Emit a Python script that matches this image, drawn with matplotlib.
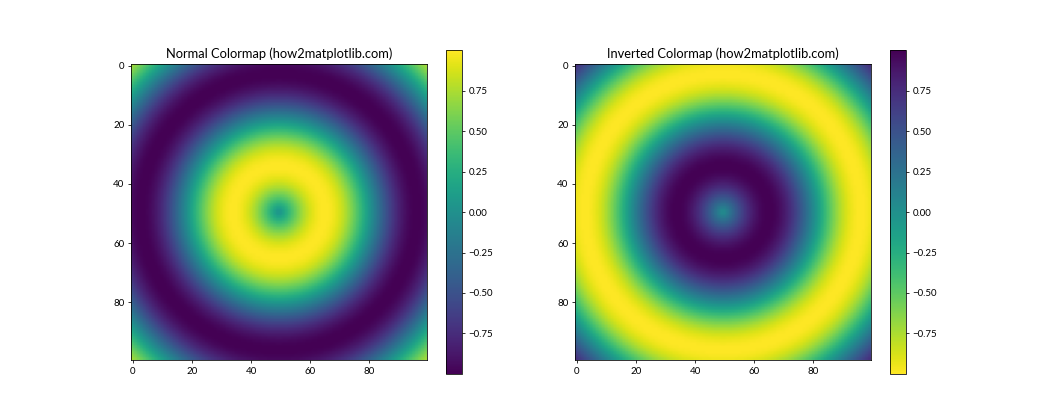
import numpy as np
import matplotlib.pyplot as plt

plt.rcParams['font.family'] = ['Lato', 'DejaVu Sans']

# grid of the image: 100 x 100 samples over [-5, 5]
grid_min, grid_max, grid_n = -5, 5, 100
titles = ["Normal Colormap (how2matplotlib.com)",
          "Inverted Colormap (how2matplotlib.com)"]
cmaps = ["viridis", "viridis_r"]

x = np.linspace(grid_min, grid_max, grid_n)
y = np.linspace(grid_min, grid_max, grid_n)
X, Y = np.meshgrid(x, y)
Z = np.sin(np.sqrt(X**2 + Y**2))

fig, axes = plt.subplots(1, 2, figsize=(15, 6), dpi=70)
for ax, title, cmap in zip(axes, titles, cmaps):
    im = ax.imshow(Z, cmap=cmap)
    ax.set_title(title, fontsize=13.2)
    fig.colorbar(im, ax=ax)

plt.savefig("out.png", dpi=70)
